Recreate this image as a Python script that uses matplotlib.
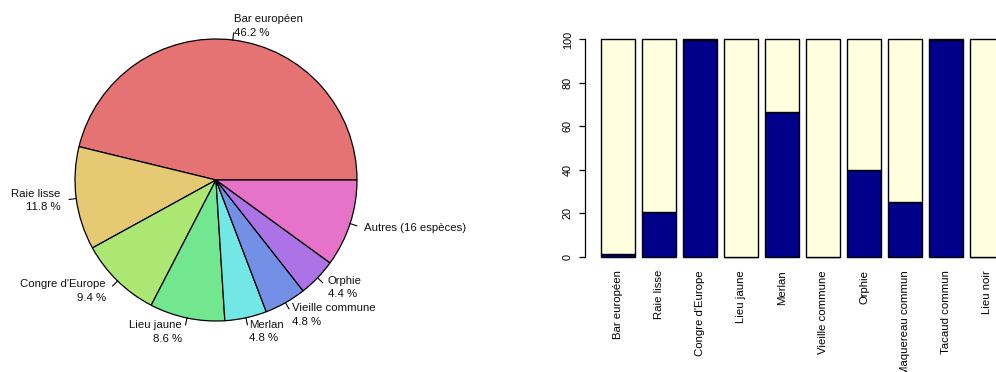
import numpy as np
import matplotlib
matplotlib.use('Agg')
import matplotlib.pyplot as plt

plt.rcParams['font.family'] = ['Liberation Sans', 'DejaVu Sans']

# camembert : part des captures par espece (%)
especes_pie = ['Bar européen', 'Raie lisse', "Congre d'Europe", 'Lieu jaune',
               'Merlan', 'Vieille commune', 'Orphie', 'Autres (16 espèces)']
pourcentages = [46.2, 11.8, 9.4, 8.6, 4.8, 4.8, 4.4, 10.0]
couleurs_pie = ['#E67373', '#E6C973', '#ACE673', '#73E690',
                '#73E6E6', '#7390E6', '#AC73E6', '#E673C9']

# barres : part (%) en bleu pour chaque espece
especes_bar = ['Bar européen', 'Raie lisse', "Congre d'Europe", 'Lieu jaune',
               'Merlan', 'Vieille commune', 'Orphie', 'Maquereau commun',
               'Tacaud commun', 'Lieu noir']
part_bleue = [1.2, 20.5, 100, 0, 66.7, 0, 40.0, 25.0, 100, 0]

W, H = 996, 372
fig = plt.figure(figsize=(W / 100, H / 100), dpi=100)

# ---- pie ----
ax1 = fig.add_axes([0, 0, 498 / W, 1])
etiquettes = []
for nom, p in zip(especes_pie, pourcentages):
    if nom.startswith('Autres'):
        etiquettes.append(nom)
    else:
        etiquettes.append(f'{nom}\n{p:.1f} %')
cx, cy, r = 216, H - 180, 141
wedges, _ = ax1.pie(pourcentages, colors=couleurs_pie, startangle=0,
                    counterclock=True, radius=r, center=(cx, cy),
                    wedgeprops=dict(edgecolor='black', linewidth=0.9))
# etiquettes facon R : trait de r a 1.05r, texte a 1.1r
for w, lab in zip(wedges, etiquettes):
    a = np.deg2rad((w.theta1 + w.theta2) / 2)
    dx, dy = np.cos(a), np.sin(a)
    ax1.plot([cx + r * dx, cx + 1.05 * r * dx],
             [cy + r * dy, cy + 1.05 * r * dy],
             color='black', linewidth=0.8)
    ax1.text(cx + 1.1 * r * dx - (2 if dx < 0 else 0), cy + 1.1 * r * dy, lab,
             ha='left' if dx > 0 else 'right', va='center',
             fontsize=8.2, color='#111111', linespacing=1.45)
ax1.set_xlim(0, 498)
ax1.set_ylim(0, H)
ax1.set_aspect('equal')
ax1.axis('off')

# ---- barres empilees ----
x0_px, pas_px = 594.2, 41.0
unite = pas_px / 1.2
gauche_px = 585
droite_px = 1150
bas_px, haut_px = 256.7, 39.5
ax2 = fig.add_axes([gauche_px / W, (H - bas_px) / H,
                    (droite_px - gauche_px) / W, (bas_px - haut_px) / H])
pos = 0.7 + 1.2 * np.arange(len(especes_bar))
bleu = np.array(part_bleue, dtype=float)
ax2.bar(pos, bleu, width=1, color='#00008B', edgecolor='black',
        linewidth=1, clip_on=False)
ax2.bar(pos, 100 - bleu, bottom=bleu, width=1, color='#FFFFE0',
        edgecolor='black', linewidth=1, clip_on=False)
ax2.set_xlim((gauche_px - x0_px) / unite, (droite_px - x0_px) / unite)
ax2.set_ylim(0, 100)
for s in ['top', 'right', 'bottom']:
    ax2.spines[s].set_visible(False)
ax2.spines['left'].set_bounds(0, 100)
ax2.spines['left'].set_linewidth(0.9)
ax2.set_yticks([0, 20, 40, 60, 80, 100])
ax2.tick_params(axis='y', length=4.3, width=0.9, pad=4.5, labelsize=7.8,
                labelrotation=90)
for t in ax2.get_yticklabels():
    t.set_va('center')
ax2.set_xticks(pos)
ax2.set_xticklabels(especes_bar, rotation=90, fontsize=8.2)
ax2.tick_params(axis='x', length=0, pad=9.6)

fig.savefig('out.png', dpi=100)
